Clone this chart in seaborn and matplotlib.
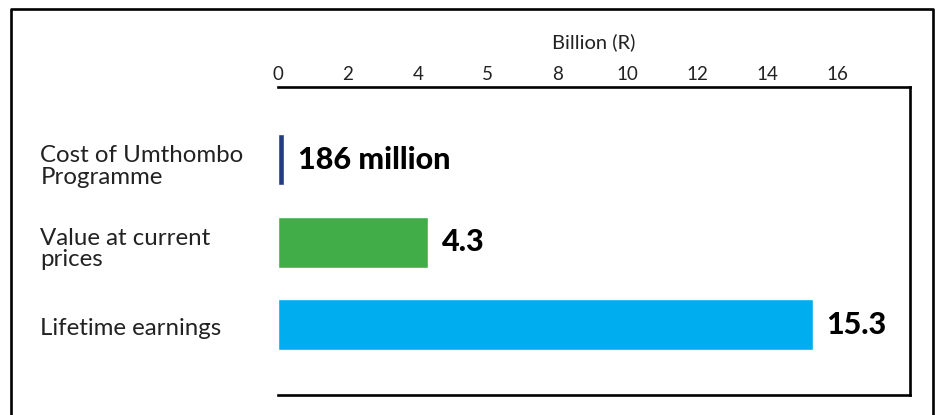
import matplotlib
matplotlib.use("Agg")
import matplotlib.pyplot as plt
import matplotlib.transforms as mtransforms
from matplotlib.lines import Line2D
import seaborn as sns
import pandas as pd

categories = ["Cost of Umthombo\nProgramme", "Value at current\nprices", "Lifetime earnings"]
values = [0.186, 4.3, 15.3]
value_labels = ["186 million", "4.3", "15.3"]
bar_colors = ["#243b80", "#41ad49", "#00adef"]
tick_values = [0, 2, 4, 6, 8, 10, 12, 14, 16]
tick_labels = ["0", "2", "4", "5", "8", "10", "12", "14", "16"]
x_title = "Billion (R)"

sns.set_theme(style="white")
plt.rcParams["font.family"] = ["Lato", "DejaVu Sans"]

df = pd.DataFrame({"category": categories, "value": values})

fig = plt.figure(figsize=(9.41, 4.15), dpi=100)
ax = fig.add_axes([278 / 941, 1 - 395 / 415, (910 - 278) / 941, (395 - 87) / 415])

sns.barplot(data=df, y="category", x="value", hue="category", palette=bar_colors,
            orient="h", width=0.62, legend=False, ax=ax, saturation=1)

ax.set_xlim(0, 18.09)
ax.set_ylim(2.85, -0.88)

ax.xaxis.tick_top()
ax.xaxis.set_label_position("top")
ax.set_xticks(tick_values)
ax.set_xticklabels(tick_labels, fontsize=13.5, fontweight="normal", color="#222222")
ax.set_xlabel(x_title, fontsize=14.5, fontweight="normal", color="#222222", labelpad=13)
ax.set_ylabel("")
ax.tick_params(axis="x", length=0, pad=3)
ax.tick_params(axis="y", length=0, pad=171)
for lab in ax.get_yticklabels():
    lab.set_horizontalalignment("left")
    lab.set_fontsize(17.3)
    lab.set_fontweight("normal")
    lab.set_color("#222222")
    lab.set_linespacing(1.03)
    dy = -0.045 if "\n" in lab.get_text() else -0.02
    lab.set_transform(lab.get_transform() + mtransforms.ScaledTranslation(0, dy, fig.dpi_scale_trans))

for side in ["top", "right", "bottom"]:
    ax.spines[side].set_visible(True)
    ax.spines[side].set_color("black")
    ax.spines[side].set_linewidth(1.9)
ax.spines["left"].set_visible(False)

for i, (v, t) in enumerate(zip(values, value_labels)):
    ax.annotate(t, xy=(v, i), xytext=(10, 0), textcoords="offset points",
                ha="left", va="center", fontsize=22, fontweight="black", color="black")

# outer frame (open at bottom)
xl, xr, yt = 11 / 941, 932.5 / 941, 1 - 9.5 / 415
fig.add_artist(Line2D([xl, xl, xr, xr], [0, yt, yt, 0], transform=fig.transFigure,
                      color="black", linewidth=1.9))

fig.savefig("out.png", dpi=100)
